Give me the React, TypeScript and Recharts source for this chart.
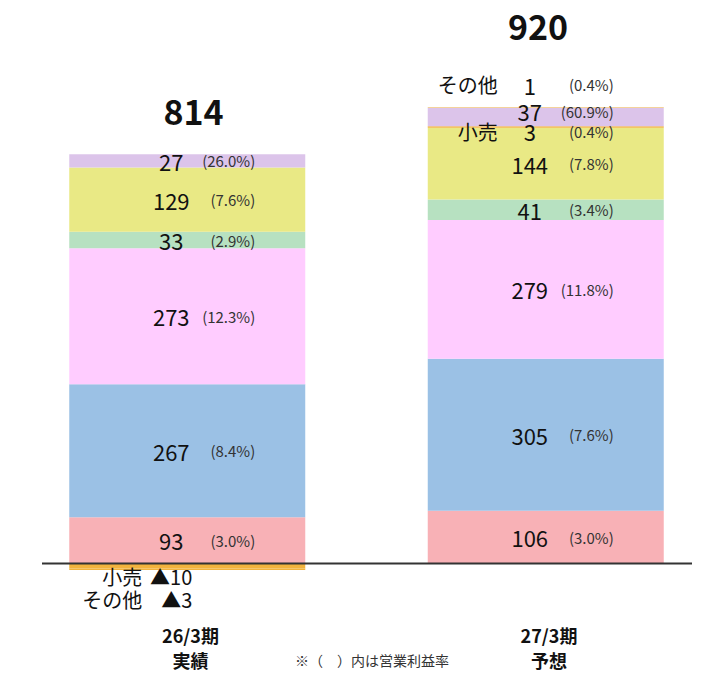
import { Bar, BarChart, LabelList, ReferenceDot, ReferenceLine, XAxis, YAxis } from "recharts";

const periods = ["26/3期", "27/3期"];
const periodKinds = ["実績", "予想"];
const totals = [814, 920];

// segment values (bottom -> top) and operating margin (%)
const seg1 = [93, 106];
const seg1Rate = [3.0, 3.0];
const seg2 = [267, 305];
const seg2Rate = [8.4, 7.6];
const seg3 = [273, 279];
const seg3Rate = [12.3, 11.8];
const seg4 = [33, 41];
const seg4Rate = [2.9, 3.4];
const seg5 = [129, 144];
const seg5Rate = [7.6, 7.8];
const retail = [-10, 3];
const retailRate = [null, 0.4];
const seg6 = [27, 37];
const seg6Rate = [26.0, 60.9];
const other = [-3, 1];
const otherRate = [null, 0.4];

type Series = {
  key: string;
  name?: string;
  values: number[];
  rates: (number | null)[];
  color: string;
};

const series: Series[] = [
  { key: "seg1", values: seg1, rates: seg1Rate, color: "#F8B1B6" },
  { key: "seg2", values: seg2, rates: seg2Rate, color: "#9BC1E5" },
  { key: "seg3", values: seg3, rates: seg3Rate, color: "#FFCCFF" },
  { key: "seg4", values: seg4, rates: seg4Rate, color: "#B7E1C1" },
  { key: "seg5", values: seg5, rates: seg5Rate, color: "#E9E985" },
  { key: "retail", name: "小売", values: retail, rates: retailRate, color: "#F2B33D" },
  { key: "seg6", values: seg6, rates: seg6Rate, color: "#DCC4EA" },
  { key: "other", name: "その他", values: other, rates: otherRate, color: "#F2B33D" },
];

const data = periods.map((p, i) => {
  const row: Record<string, string | number> = { period: p };
  series.forEach((s) => (row[s.key] = s.values[i]));
  return row;
});

const FONT = "'Noto Sans CJK JP', 'Noto Sans', sans-serif";
const VAL_SIZE = 22;
const NAME_SIZE = 20;
const RATE_SIZE = 15;

function makeLabel(s: Series) {
  return (props: any) => {
    const { x, y, width, height, index } = props;
    const v = s.values[index];
    const rate = s.rates[index];
    const cx = Number(x) + Number(width) / 2;
    const y0 = Number(y);
    const y1 = Number(y) + Number(height);
    const top = Math.min(y0, y1);
    const bottom = Math.max(y0, y1);
    let cy = (top + bottom) / 2;

    if (s.name && v < 0) {
      const ly = s.key === "retail" ? bottom + 8 : bottom + 30;
      return (
        <g fontFamily={FONT} fontSize={NAME_SIZE} fill="#111">
          <text x={cx - 45} y={ly} textAnchor="end" dominantBaseline="central">
            {s.name}
          </text>
          <text x={cx + 5} y={ly} textAnchor="end" dominantBaseline="central">
            ▲{Math.abs(v)}
          </text>
        </g>
      );
    }
    if (s.name) cy = s.key === "retail" ? cy + 4 : cy - 23;
    if (s.key === "seg6" && index === 1) cy -= 6;

    return (
      <g fontFamily={FONT}>
        {s.name && (
          <text x={cx - 48} y={cy} textAnchor="end" dominantBaseline="central" fontSize={NAME_SIZE} fill="#111">
            {s.name}
          </text>
        )}
        <text x={cx - 16} y={cy} textAnchor="middle" dominantBaseline="central" fontSize={VAL_SIZE} fill="#111">
          {v}
        </text>
        {rate != null && (
          <text x={cx + 68} y={cy} textAnchor="end" dominantBaseline="central" fontSize={RATE_SIZE} fill="#333">
            ({rate.toFixed(1)}%)
          </text>
        )}
      </g>
    );
  };
}

const totalDx = [6, -8];
const totalDy = [-48, -80];

function PeriodTick(props: any) {
  const { x, y, payload, index } = props;
  return (
    <g fontFamily={FONT} fontSize={18} fontWeight={700} fill="#111" textAnchor="middle">
      <text x={x + 3} y={y + 22} dominantBaseline="central">
        {payload.value}
      </text>
      <text x={x + 3} y={y + 47} dominantBaseline="central">
        {periodKinds[index]}
      </text>
    </g>
  );
}

export default function App() {
  return (
    <div
      style={{
        position: "absolute",
        left: 0,
        top: 0,
        width: 702,
        height: 674,
        overflow: "hidden",
        background: "#fff",
      }}
    >
      <BarChart
        width={702}
        height={674}
        data={data}
        stackOffset="sign"
        margin={{ top: 65.5, right: 10, bottom: 0, left: 42 }}
      >
        <XAxis
          dataKey="period"
          axisLine={false}
          tickLine={false}
          tickSize={0}
          tickMargin={0}
          height={60.7}
          padding={{ left: -33.75, right: -33.25 }}
          tick={<PeriodTick />}
          interval={0}
        />
        <YAxis hide domain={[-100, 1000]} />
        {series.map((s) => (
          <Bar key={s.key} dataKey={s.key} stackId="a" fill={s.color} barSize={236} isAnimationActive={false}>
            <LabelList dataKey={s.key} content={makeLabel(s)} />
          </Bar>
        ))}
        <ReferenceLine y={0} stroke="#333" strokeWidth={2} />
        {periods.map((p, i) => (
          <ReferenceDot
            key={p}
            x={p}
            y={totals[i]}
            r={0}
            fill="none"
            stroke="none"
            label={(lp: any) => {
              const vb = lp.viewBox || {};
              return (
                <text
                  x={vb.x + totalDx[i]}
                  y={vb.y + totalDy[i]}
                  textAnchor="middle"
                  dominantBaseline="central"
                  fontFamily={FONT}
                  fontSize={34}
                  fontWeight={700}
                  fill="#111"
                >
                  {totals[i]}
                </text>
              );
            }}
          />
        ))}
      </BarChart>
      <div
        style={{
          position: "absolute",
          left: 295,
          top: 650,
          fontFamily: FONT,
          fontSize: 14,
          lineHeight: "20px",
          color: "#333",
          whiteSpace: "nowrap",
        }}
      >
        ※（　）内は営業利益率
      </div>
    </div>
  );
}
